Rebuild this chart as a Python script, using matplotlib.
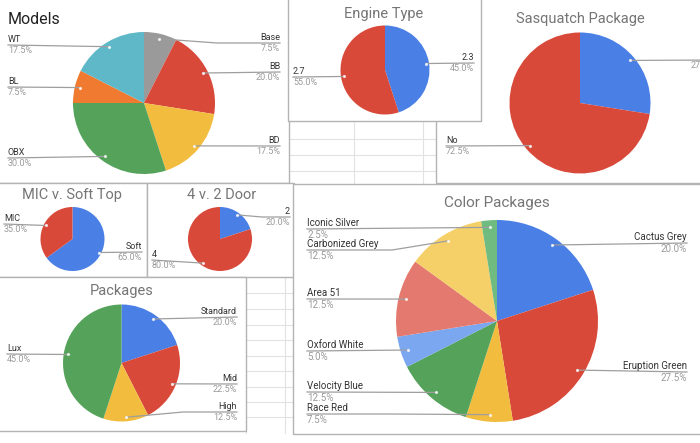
import math
import matplotlib
matplotlib.use("Agg")
import matplotlib.pyplot as plt
from matplotlib.patches import Rectangle

plt.rcParams['font.family'] = ['Roboto', 'DejaVu Sans']

W, H = 700, 443

# counts behind each pie (shares are computed from them)
models_labels = ["Base", "BB", "BD", "OBX", "BL", "WT"]
models_values = [3, 8, 7, 12, 3, 7]

engine_labels = ["2.3", "2.7"]
engine_values = [18, 22]

sasq_labels = ["Yes", "No"]
sasq_values = [11, 29]

top_labels = ["Soft", "MIC"]
top_values = [26, 14]

door_labels = ["2", "4"]
door_values = [8, 32]

pkg_labels = ["Standard", "Mid", "High", "Lux"]
pkg_values = [8, 9, 5, 18]

color_labels = ["Cactus Grey", "Eruption Green", "Race Red", "Velocity Blue",
                "Oxford White", "Area 51", "Carbonized Grey", "Iconic Silver"]
color_values = [8, 11, 3, 5, 2, 5, 5, 1]

BLUE, RED, YELLOW, GREEN = "#4a7fe6", "#d9493a", "#f2bd3f", "#55a35b"
ORANGE, TEAL, GREY = "#f07a30", "#5fb8c8", "#9a9a9a"
LBLUE, LRED, LYELLOW, LGREEN = "#7ba6f0", "#e47a6f", "#f5cf68", "#6fbb80"
BORDER, GRID, LINE = "#b3b3b3", "#e2e2e2", "#9e9e9e"

fig = plt.figure(figsize=(7, 4.43), dpi=100)
ax = fig.add_axes([0, 0, 1, 1])


def panel(x0, y0, x1, y1):
    ax.add_patch(Rectangle((x0, y0), x1 - x0, y1 - y0, facecolor="white",
                           edgecolor=BORDER, lw=1.0, zorder=0.5))


def grid(x0, x1, y0, y1, rows, cols):
    for y in rows:
        ax.plot([x0, x1], [y, y], color=GRID, lw=0.8, zorder=0.2)
    for x in cols:
        ax.plot([x, x], [y0, y1], color=GRID, lw=0.8, zorder=0.2)


def draw_pie(cx, cy, r, labels, values, colors, specs, fs=6.5):
    ax.pie(values, colors=colors, center=(cx, cy), radius=r, startangle=-90,
           counterclock=True, frame=True, wedgeprops=dict(linewidth=0))
    total = sum(values)
    start = 0.0
    for lab, v, (side, tx, ly, bend) in zip(labels, values, specs):
        share = v / total
        mid = math.radians((start + share / 2) * 360)
        start += share
        px = cx + 0.93 * r * math.sin(mid)
        py = cy - 0.93 * r * math.cos(mid)
        if bend is None:
            xs, ys = [px, tx], [py, ly]
        else:
            xs, ys = [px, bend, tx], [py, ly, ly]
        ax.plot(xs, ys, color=LINE, lw=0.9, zorder=3)
        ax.plot(px, py, 'o', ms=1.3, color="white", alpha=0.7, zorder=3)
        ha = 'right' if side == 'r' else 'left'
        ax.text(tx, ly - 1.0, lab, ha=ha, va='bottom', fontsize=fs,
                color="#333333", zorder=4)
        ax.text(tx, ly + 1.2, f"{share * 100:.1f}%", ha=ha, va='top',
                fontsize=fs, color="#9a9a9a", zorder=4)


def title(x, y, s, size=10.5, color="#757575", ha="center"):
    ax.text(x, y, s, ha=ha, va='center', fontsize=size, color=color, zorder=4)


# spreadsheet cells showing between the charts
grid(290, 436, 121, 183, [139, 155, 171], [354, 423])
grid(246, 293, 277, 433, [293, 309, 325, 340, 356, 371, 387, 402, 417], [285])
ax.plot([246, 246], [431, 433], color=GRID, lw=0.8, zorder=0.2)

# chart panels
panel(-2, -2, 289, 183)
panel(436, -2, 702, 183)
panel(288, -2, 481, 121)
panel(-2, 183, 147, 277)
panel(147, 183, 294, 277)
panel(-2, 277, 246, 431)
panel(293, 184, 702, 434)

draw_pie(144, 103, 71, models_labels, models_values,
         [GREY, RED, YELLOW, GREEN, ORANGE, TEAL],
         [('r', 280, 43, 217), ('r', 280, 72, None), ('r', 280, 146, None),
          ('l', 8, 158, None), ('l', 8, 87, None), ('l', 8, 45, None)])
title(8, 19, "Models", size=11.5, color="#222222", ha="left")

draw_pie(385, 70, 44.5, engine_labels, engine_values, [BLUE, RED],
         [('r', 474, 63, None), ('l', 293, 77, None)])
title(384, 14, "Engine Type")

# the right label of this chart runs past the screenshot edge, as in the source
draw_pie(580, 103, 70.5, sasq_labels, sasq_values, [BLUE, RED],
         [('r', 715, 60, None), ('l', 446, 146, None)])
title(580, 19, "Sasquatch Package")

draw_pie(72.5, 239, 32, top_labels, top_values, [BLUE, RED],
         [('r', 142, 252, None), ('l', 4, 224, None)])
title(72, 195, "MIC v. Soft Top")

draw_pie(220, 239, 32, door_labels, door_values, [BLUE, RED],
         [('r', 290, 217, 262), ('l', 152, 260, None)])
title(222, 195, "4 v. 2 Door")

draw_pie(121.5, 363, 58.5, pkg_labels, pkg_values, [BLUE, RED, YELLOW, GREEN],
         [('r', 237, 317, None), ('r', 237, 384, None), ('r', 237, 412, 183),
          ('l', 7, 354, None)])
title(122, 291, "Packages")

draw_pie(497, 321, 101, color_labels, color_values,
         [BLUE, RED, YELLOW, GREEN, LBLUE, LRED, LYELLOW, LGREEN],
         [('r', 687, 243, None), ('r', 687, 372, None), ('l', 307, 414, 390),
          ('l', 307, 392, None), ('l', 307, 351, None), ('l', 307, 299, None),
          ('l', 307, 250, 392), ('l', 307, 229, None)], fs=7)
title(497, 203, "Color Packages", size=11)

ax.set_xlim(0, W)
ax.set_ylim(H, 0)
ax.set_aspect('equal')
ax.axis('off')

fig.savefig("out.png", dpi=100, facecolor="white")
